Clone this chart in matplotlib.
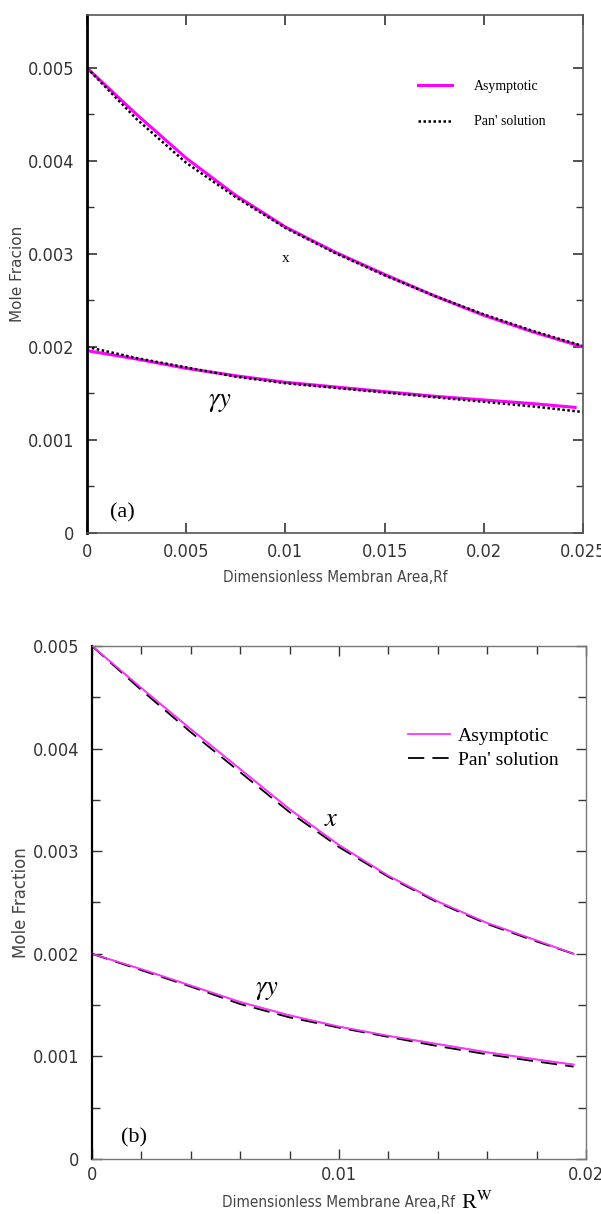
import numpy as np
import matplotlib.pyplot as plt
from matplotlib.ticker import MultipleLocator, FixedLocator

# panel (a)
rf_a = [0.0, 0.0025, 0.005, 0.0075, 0.01, 0.0125, 0.015, 0.0175, 0.02, 0.0225, 0.025]
x_asym_a = [0.00500, 0.00450, 0.00403, 0.00363, 0.00329, 0.00302, 0.00278, 0.00255, 0.00234, 0.00216, 0.00200]
x_pan_a = [0.00500, 0.00445, 0.00398, 0.00361, 0.00328, 0.00301, 0.00277, 0.00255, 0.00235, 0.00217, 0.00201]
rf_ya = [0.0, 0.0025, 0.005, 0.0075, 0.01, 0.0125, 0.015, 0.0175, 0.02, 0.0225, 0.0246]
gy_asym_a = [0.00196, 0.00187, 0.00177, 0.00169, 0.00162, 0.00157, 0.00152, 0.00147, 0.00143, 0.00139, 0.00135]
rf_ya_pan = [0.0, 0.0025, 0.005, 0.0075, 0.01, 0.0125, 0.015, 0.0175, 0.02, 0.0225, 0.025]
gy_pan_a = [0.00200, 0.00188, 0.00178, 0.00168, 0.00161, 0.00156, 0.00151, 0.00146, 0.00141, 0.00136, 0.00130]
xticks_a = [0, 0.005, 0.01, 0.015, 0.02, 0.025]
xlabels_a = ['0', '0.005', '0.01', '0.015', '0.02', '0.025']

# panel (b)
rf_b = [0.0, 0.002, 0.004, 0.006, 0.008, 0.01, 0.012, 0.014, 0.016, 0.018, 0.0195]
x_asym_b = [0.00500, 0.00459, 0.00419, 0.00380, 0.00341, 0.00306, 0.00276, 0.00251, 0.00230, 0.00213, 0.00200]
x_pan_b = [0.00500, 0.00457, 0.00416, 0.00377, 0.00338, 0.00304, 0.00275, 0.00250, 0.00229, 0.00212, 0.00200]
gy_asym_b = [0.00200, 0.00185, 0.00169, 0.00153, 0.00140, 0.00129, 0.00120, 0.00112, 0.00104, 0.00097, 0.00092]
gy_pan_b = [0.00200, 0.00184, 0.00168, 0.00151, 0.00138, 0.00128, 0.00119, 0.00110, 0.00102, 0.00095, 0.00090]
xticks_b = [0, 0.01, 0.02]
xlabels_b = ['0', '0.01', '0.02']

yticks = [0, 0.001, 0.002, 0.003, 0.004, 0.005]
ylabels = ['0', '0.001', '0.002', '0.003', '0.004', '0.005']
yminor = [0.0005, 0.0015, 0.0025, 0.0035, 0.0045]

serif = ['Liberation Serif', 'DejaVu Serif']
plt.rcParams['font.family'] = ['DejaVu Sans']
plt.rcParams['font.stretch'] = 'condensed'
plt.rcParams['mathtext.fontset'] = 'stix'

fig = plt.figure(figsize=(6.01, 12.14), dpi=100)

# ---------- (a) ----------
ax1 = fig.add_axes([0.1448, 0.561, 0.8253, 0.4267])
ax1.plot(rf_a, x_asym_a, color='#ff00ff', lw=2.2, label='Asymptotic')
ax1.plot(rf_ya, gy_asym_a, color='#ff00ff', lw=2.2)
ax1.plot(rf_a, x_pan_a, color='black', lw=1.8, ls=(0, (1, 1)), label="Pan' solution")
ax1.plot(rf_ya_pan, gy_pan_a, color='black', lw=1.8, ls=(0, (1, 1)))
ax1.set_xlim(0, 0.025)
ax1.set_ylim(0, 0.00557)
ax1.xaxis.set_major_locator(FixedLocator(xticks_a))
ax1.yaxis.set_major_locator(FixedLocator(yticks))
ax1.yaxis.set_minor_locator(FixedLocator(yminor))
ax1.set_xticklabels(xlabels_a)
ax1.set_yticklabels(ylabels)
ax1.tick_params(which='both', direction='in', top=True, right=True, labelsize=13, colors='#333333')
ax1.tick_params(which='major', length=7, width=1.2)
ax1.tick_params(which='minor', length=5, width=1.0)
ax1.tick_params(axis='y', pad=9)
ax1.tick_params(axis='x', pad=7)
for s in ax1.spines.values():
    s.set_color('#555555')
    s.set_linewidth(1.2)
ax1.spines['left'].set_color('black')
ax1.spines['left'].set_linewidth(2)
ax1.set_xlabel('Dimensionless Membran Area,Rf', fontsize=11, color='#444444', labelpad=7)
ax1.set_ylabel('Mole Fracion', fontsize=11, color='#444444', fontstretch='normal', labelpad=2)
ax1.text(0.01, 0.00295, 'x', fontsize=11, family=serif, ha='center', va='center')
ax1.text(0.0067, 0.00142, r'$\gamma y$', fontsize=19, ha='center', va='center')
ax1.text(0.0018, 0.00022, '(a)', fontsize=16, family=serif, ha='center', va='center')
ax1.legend(loc='upper left', bbox_to_anchor=(0.667, 0.874), frameon=False,
           prop={'family': serif, 'size': 10}, handlelength=2.45, handletextpad=1.6,
           labelspacing=1.6, borderpad=0, borderaxespad=0)

# ---------- (b) ----------
ax2 = fig.add_axes([0.153, 0.0453, 0.822, 0.4226])
ax2.plot(rf_b, x_asym_b, color='#ff33ff', lw=1.3, label='Asymptotic')
ax2.plot(rf_b, x_pan_b, color='black', lw=1.3, ls=(0, (9, 4.5)), label="Pan' solution")
ax2.plot(rf_b, gy_asym_b, color='#ff33ff', lw=1.3)
ax2.plot(rf_b, gy_pan_b, color='black', lw=1.3, ls=(0, (9, 4.5)))
ax2.plot(rf_b, x_asym_b, color='#ff33ff', lw=1.1)
ax2.plot(rf_b, gy_asym_b, color='#ff33ff', lw=1.1)
ax2.set_xlim(0, 0.02)
ax2.set_ylim(0, 0.005)
ax2.xaxis.set_major_locator(FixedLocator(xticks_b))
ax2.xaxis.set_minor_locator(MultipleLocator(0.002))
ax2.yaxis.set_major_locator(FixedLocator(yticks))
ax2.yaxis.set_minor_locator(FixedLocator(yminor))
ax2.set_xticklabels(xlabels_b)
ax2.set_yticklabels(ylabels)
ax2.tick_params(which='both', direction='in', top=True, right=True, labelsize=13, colors='#333333')
ax2.tick_params(which='major', length=7, width=1.0)
ax2.tick_params(which='minor', length=6, width=1.0)
ax2.tick_params(axis='y', pad=9)
ax2.tick_params(axis='x', which='major', pad=5)
for s in ax2.spines.values():
    s.set_color('#777777')
    s.set_linewidth(1.0)
ax2.spines['left'].set_color('black')
ax2.spines['left'].set_linewidth(1.6)
ax2.set_xlabel('Dimensionless Membrane Area,Rf', fontsize=11, color='#444444', labelpad=8)
ax2.text(0.0156, -0.00043, r'R$^{\mathrm{W}}$', fontsize=16, family=serif, ha='center', va='center')
ax2.set_ylabel('Mole Fraction', fontsize=12, color='#444444', fontstretch='normal', labelpad=2)
ax2.text(0.0097, 0.00331, r'$x$', fontsize=19, ha='center', va='center')
ax2.text(0.0071, 0.00166, r'$\gamma y$', fontsize=19, ha='center', va='center')
ax2.text(0.0017, 0.00021, '(b)', fontsize=16, family=serif, ha='center', va='center')
ax2.legend(loc='upper left', bbox_to_anchor=(0.64, 0.842), frameon=False,
           prop={'family': serif, 'size': 14}, handlelength=2.16, labelspacing=0.34,
           handletextpad=0.4, borderpad=0, borderaxespad=0)

fig.savefig('out.png', dpi=100)
